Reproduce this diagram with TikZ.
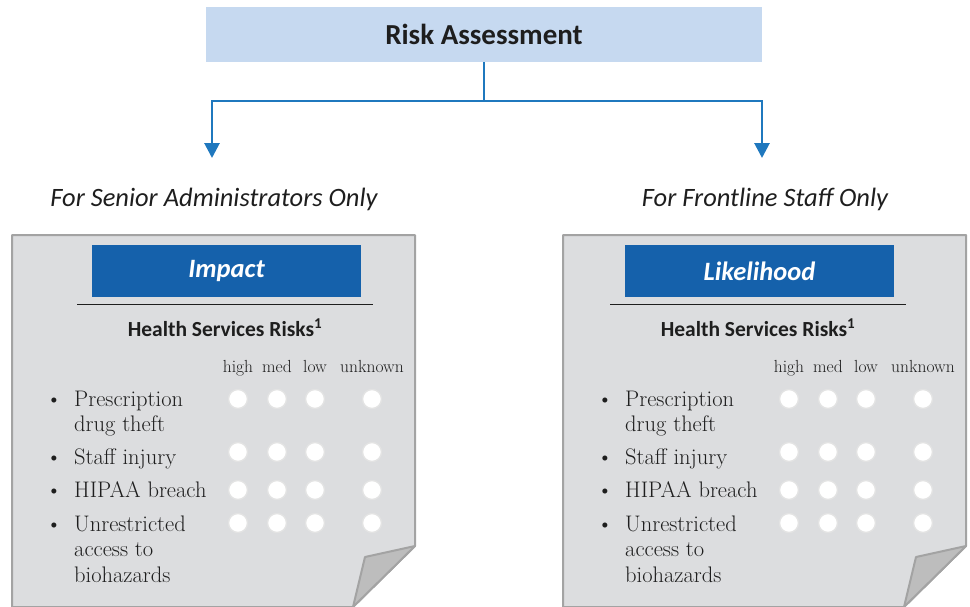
\documentclass[tikz,border=0pt]{standalone}
\usepackage{fontspec}
\newfontfamily\calibri{Carlito}
\usetikzlibrary{arrows.meta,positioning}
\definecolor{headblue}{HTML}{C6D9F0}
\definecolor{titleblue}{HTML}{1561AB}
\definecolor{arrowblue}{HTML}{1F78BE}
\definecolor{paperfill}{HTML}{DCDDDF}
\definecolor{paperedge}{HTML}{A3A3A3}
\definecolor{foldfill}{HTML}{BDBDBD}
\definecolor{inkgray}{HTML}{1E1E1E}

\begin{document}
\begin{tikzpicture}[x=1pt,y=-1pt,
    flow/.style={draw=arrowblue, line width=2.8pt, -{Triangle[width=15pt,length=15pt]}},
    paper/.style={fill=paperfill, draw=paperedge, line width=2pt, line join=round},
    titlebox/.style={fill=titleblue, minimum width=269pt, minimum height=52pt, inner sep=0pt,
      text=white, font=\calibri\fontsize{26.5}{30}\selectfont\bfseries\itshape},
    riskitem/.style={anchor=base west, inner sep=0pt, text=inkgray,
      font=\fontsize{22.5}{25.5}\selectfont},
    colhead/.style={anchor=base, inner sep=0pt, text=inkgray, font=\fontsize{17.5}{20}\selectfont},
    dot/.style={circle, fill=white, draw=gray!22, line width=1.4pt, minimum size=19pt, inner sep=0pt}]
  \useasboundingbox (0,0) rectangle (970,606);

  % Kopf und Verzweigung
  \node[fill=headblue, minimum width=556pt, minimum height=55pt, inner sep=0pt,
    font=\calibri\fontsize{29}{32}\selectfont\bfseries, text=inkgray] (risk) at (484,34.5) {Risk Assessment};
  \coordinate (fork) at (484,101);
  \coordinate (adminTip) at (212,158);
  \coordinate (staffTip) at (762,158);
  \draw[flow] (risk.south) -- (fork) -| (adminTip);
  \draw[flow] (risk.south) -- (fork) -| (staffTip);

  % Zielgruppen
  \node[font=\calibri\fontsize{26.5}{30}\selectfont\itshape, text=inkgray] (admin) at (214,199) {For Senior Administrators Only};
  \node[font=\calibri\fontsize{26.5}{30}\selectfont\itshape, text=inkgray] (staff) at (765,199) {For Frontline Staff Only};

  % Zwei Formulare: linkes (Impact) und rechtes (Likelihood)
  \foreach \dx/\tx/\ttl/\nm in {0/0/Impact/imp, 551/533/Likelihood/lik} {
    \begin{scope}[xshift=\dx pt]
      % Blatt mit umgeknickter Ecke
      \draw[paper] (12,235) -- (415,235) -- (415,546) -- (353,607) -- (12,607) -- cycle;
      \draw[paper, fill=foldfill] (415,546) -- (365,557) -- (353,607) -- cycle;
      % Listeneintraege
      \node[riskitem] (\nm-drug) at (74,406) {\vtop{\hbox{Prescription}\hbox{drug theft}}};
      \node[riskitem] (\nm-staff) at (74,464) {Staff injury};
      \node[riskitem] (\nm-hipaa) at (74,497) {HIPAA breach};
      \node[riskitem] (\nm-bio) at (74,531) {\vtop{\hbox{Unrestricted}\hbox{access to}\hbox{biohazards}}};
      \foreach \y in {406,464,497,531}
        \node[riskitem, anchor=base] at (54,\y) {\textbullet};
      % Spaltenkoepfe und Auswahlkreise
      \foreach \x/\lab in {238/high, 277/med, 315/low, 372/unknown} {
        \node[colhead] at (\x,372) {\lab};
        \foreach \y in {399,452,490,523}
          \node[dot] at (\x,\y) {};
      }
    \end{scope}
    \begin{scope}[xshift=\tx pt]
      \node[titlebox] (\nm-title) at (226.5,271) {\ttl};
      \draw[inkgray, line width=1.5pt] (77,304.5) -- (373,304.5);
      \node[anchor=base, inner sep=0pt, text=inkgray,
        font=\calibri\fontsize{21.5}{24}\selectfont\bfseries] (\nm-head) at (225,336) {Health Services Risks\textsuperscript{1}};
    \end{scope}
  }
\end{tikzpicture}
\end{document}
